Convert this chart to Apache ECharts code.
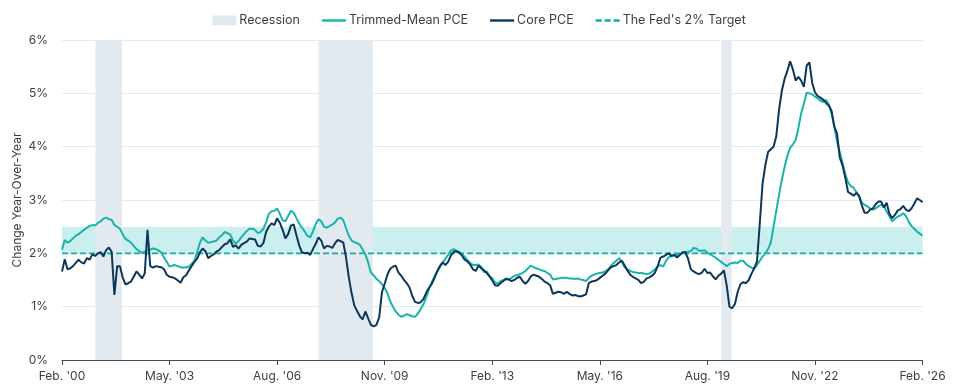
<!DOCTYPE html>
<html><head><meta charset="utf-8">
<script src="https://cdn.jsdelivr.net/npm/echarts@6/dist/echarts.min.js"></script>
<style>html,body{margin:0;padding:0;background:#fff}#c{width:958px;height:391px}</style>
</head><body><div id="c"></div>
<script>
// Months since Feb. 2000 (index 0) through Feb. 2026 (index 312)
const tickLabels = ["Feb. '00","May. '03","Aug. '06","Nov. '09","Feb. '13","May. '16","Aug. '19","Nov. '22","Feb. '26"];
const tickStepMonths = 39;
const lastMonth = 312;

const trimmedMeanPCE = [
2.07,2.25,2.20,2.23,2.28,2.33,2.36,2.40,2.44,2.48,
2.51,2.53,2.52,2.57,2.60,2.65,2.67,2.64,2.63,2.53,
2.50,2.46,2.36,2.27,2.24,2.20,2.14,2.08,2.04,2.01,
2.03,2.06,2.07,2.09,2.08,2.05,2.02,1.92,1.84,1.75,
1.77,1.78,1.76,1.74,1.73,1.74,1.75,1.80,1.86,2.02,
2.20,2.30,2.24,2.20,2.21,2.22,2.24,2.30,2.34,2.40,
2.38,2.35,2.24,2.18,2.23,2.30,2.36,2.42,2.46,2.46,
2.44,2.38,2.40,2.46,2.58,2.74,2.79,2.80,2.84,2.74,
2.62,2.60,2.70,2.80,2.76,2.66,2.56,2.48,2.41,2.33,
2.30,2.41,2.55,2.64,2.60,2.50,2.48,2.51,2.54,2.58,
2.65,2.67,2.62,2.47,2.33,2.24,2.21,2.19,2.16,2.07,
1.98,1.83,1.64,1.59,1.52,1.48,1.42,1.35,1.25,1.10,
1.00,0.91,0.85,0.81,0.83,0.86,0.84,0.82,0.81,0.87,
0.95,1.04,1.17,1.32,1.45,1.56,1.65,1.74,1.82,1.90,
1.97,2.05,2.08,2.05,2.01,1.98,1.94,1.87,1.82,1.78,
1.78,1.79,1.75,1.65,1.66,1.57,1.53,1.45,1.43,1.48,
1.50,1.53,1.51,1.54,1.58,1.59,1.61,1.63,1.67,1.72,
1.77,1.74,1.72,1.70,1.68,1.67,1.63,1.60,1.51,1.52,
1.53,1.54,1.54,1.54,1.53,1.53,1.52,1.53,1.51,1.50,
1.48,1.54,1.58,1.60,1.62,1.63,1.64,1.66,1.70,1.76,
1.82,1.86,1.91,1.84,1.74,1.70,1.67,1.65,1.64,1.63,
1.63,1.62,1.61,1.62,1.66,1.70,1.76,1.78,1.75,1.86,
1.93,1.95,1.97,1.97,1.98,2.00,2.02,2.03,2.04,2.10,
2.09,2.05,2.05,2.06,2.01,1.98,1.95,1.92,1.88,1.84,
1.80,1.76,1.80,1.82,1.83,1.82,1.86,1.86,1.80,1.76,
1.73,1.72,1.78,1.86,1.94,2.00,2.08,2.20,2.50,2.80,
3.10,3.38,3.62,3.83,3.98,4.04,4.12,4.35,4.62,4.81,
5.01,5.00,4.98,4.94,4.91,4.86,4.84,4.88,4.80,4.62,
4.38,4.10,3.90,3.70,3.48,3.33,3.26,3.23,3.15,3.07,
2.95,2.91,2.88,2.84,2.82,2.84,2.88,2.91,2.89,2.78,
2.70,2.60,2.65,2.69,2.71,2.75,2.70,2.59,2.51,2.46,
2.41,2.37,2.33
];

const corePCE = [
1.66,1.89,1.70,1.72,1.76,1.82,1.88,1.83,1.81,1.91,
1.88,1.98,1.95,2.00,2.02,1.94,2.06,2.11,2.03,1.22,
1.76,1.76,1.55,1.42,1.44,1.47,1.56,1.66,1.60,1.53,
1.62,2.44,1.76,1.73,1.76,1.75,1.74,1.70,1.60,1.56,
1.55,1.53,1.49,1.45,1.55,1.59,1.68,1.76,1.84,1.90,
2.02,2.09,2.04,1.91,1.95,1.98,2.03,2.06,2.12,2.17,
2.19,2.26,2.12,2.15,2.09,2.16,2.19,2.22,2.28,2.27,
2.26,2.14,2.13,2.19,2.40,2.50,2.56,2.53,2.66,2.57,
2.44,2.28,2.36,2.52,2.54,2.34,2.15,2.02,2.00,2.01,
1.97,2.08,2.18,2.30,2.24,2.09,2.14,2.13,2.10,2.19,
2.25,2.23,2.20,1.92,1.55,1.25,1.02,0.92,0.82,0.76,
0.91,0.78,0.66,0.63,0.66,0.80,1.27,1.43,1.60,1.71,
1.75,1.77,1.64,1.58,1.50,1.44,1.36,1.20,1.09,1.07,
1.08,1.14,1.25,1.35,1.42,1.53,1.66,1.76,1.83,1.78,
1.84,1.96,2.03,2.04,2.02,1.96,1.88,1.85,1.79,1.70,
1.67,1.77,1.72,1.68,1.63,1.57,1.49,1.40,1.39,1.44,
1.48,1.52,1.51,1.48,1.50,1.54,1.56,1.48,1.43,1.48,
1.57,1.60,1.58,1.56,1.52,1.47,1.44,1.40,1.24,1.26,
1.28,1.27,1.24,1.28,1.24,1.21,1.22,1.20,1.19,1.21,
1.23,1.44,1.47,1.48,1.50,1.54,1.58,1.62,1.68,1.74,
1.76,1.78,1.83,1.86,1.77,1.68,1.60,1.56,1.53,1.50,
1.44,1.47,1.53,1.55,1.58,1.64,1.76,1.92,1.94,1.97,
2.00,1.95,1.97,1.92,1.97,2.02,2.02,1.90,1.70,1.66,
1.63,1.61,1.64,1.71,1.63,1.64,1.57,1.51,1.58,1.62,
1.68,1.40,1.00,0.97,1.05,1.28,1.42,1.46,1.44,1.50,
1.62,1.72,1.85,2.56,3.30,3.65,3.90,3.95,4.00,4.20,
4.70,5.05,5.27,5.42,5.60,5.45,5.24,5.31,5.24,5.12,
5.52,5.58,5.20,5.02,4.95,4.92,4.88,4.82,4.77,4.68,
4.38,4.25,3.80,3.65,3.42,3.15,3.12,3.08,3.13,3.08,
2.90,2.76,2.76,2.82,2.84,2.92,2.97,2.97,2.86,2.95,
2.74,2.66,2.72,2.80,2.83,2.89,2.82,2.79,2.84,2.93,
3.03,3.00,2.96
];

// Recession shading, in months since Feb. 2000 [start, end]
const recessions = [[12.1, 21.7], [93, 112.7], [239, 242.8]];
const fedTarget = 2;
const targetBand = [2, 2.5];

const toPairs = arr => arr.map((v, i) => [i, v]);
const FONT = 'Inter';
const LINE_ICON = 'path://M0,0H24V2.4H0Z';
const DASH_ICON = 'path://M0,0H6V2.4H0Z M9,0H15V2.4H9Z M18,0H24V2.4H18Z';

const chart = echarts.init(document.getElementById('c'), null, {renderer: 'canvas'});
chart.setOption({
  animation: false,
  textStyle: {fontFamily: FONT},
  grid: {left: 62, right: 35.5, top: 40, bottom: 31, containLabel: false},
  legend: {
    top: 9, left: 'center', itemWidth: 24, itemHeight: 10, itemGap: 22,
    selectedMode: false, symbolKeepAspect: true,
    textStyle: {fontFamily: FONT, fontSize: 12.5, color: '#3b3f44', padding: [0,0,0,-2]},
    data: [
      {name: 'Recession', icon: 'rect', itemStyle: {color: '#e2eaf0'}},
      {name: 'Trimmed-Mean PCE', icon: LINE_ICON, itemStyle: {color: '#19b3aa'}},
      {name: 'Core PCE', icon: LINE_ICON, itemStyle: {color: '#0c3759'}},
      {name: "The Fed's 2% Target", icon: DASH_ICON, itemStyle: {color: '#13aca4'}}
    ]
  },
  xAxis: {
    type: 'value', min: 0, max: lastMonth, interval: tickStepMonths,
    axisLine: {show: true, lineStyle: {color: '#3c4d5e', width: 1.2}},
    axisTick: {show: true, length: 5, lineStyle: {color: '#3c4d5e'}},
    splitLine: {show: false},
    axisLabel: {
      color: '#3b3f44', fontSize: 12, margin: 10, fontFamily: FONT,
      formatter: v => tickLabels[Math.round(v / tickStepMonths)]
    }
  },
  yAxis: {
    type: 'value', min: 0, max: 6, interval: 1,
    name: 'Change Year-Over-Year', nameLocation: 'middle', nameRotate: 90, nameGap: 39,
    nameMoveOverlap: false,
    nameTextStyle: {color: '#3b3f44', fontSize: 12, fontFamily: FONT},
    axisLine: {show: false}, axisTick: {show: false},
    axisLabel: {color: '#3b3f44', fontSize: 12, margin: 14, formatter: '{value}%', fontFamily: FONT},
    splitLine: {lineStyle: {color: '#e2ebf0', width: 1}}
  },
  series: [
    {
      name: 'band', type: 'line', data: [], z: 1, silent: true,
      markArea: {silent: true, itemStyle: {color: '#cbeeee', opacity: 1},
        data: [[{xAxis: 0, yAxis: targetBand[0]}, {xAxis: lastMonth, yAxis: targetBand[1]}]]}
    },
    {
      name: 'Recession', type: 'line', data: [], z: 2, color: '#e2eaf0', silent: true,
      itemStyle: {color: '#e2eaf0'},
      markArea: {silent: true, itemStyle: {color: '#e2eaf0', opacity: 1},
        data: recessions.map(r => [{xAxis: r[0], yAxis: 0}, {xAxis: r[1], yAxis: 6}])}
    },
    {
      name: 'Trimmed-Mean PCE', type: 'line', z: 4, data: toPairs(trimmedMeanPCE),
      showSymbol: false, symbol: 'none', color: '#19b3aa',
      lineStyle: {color: '#19b3aa', width: 2}
    },
    {
      name: 'Core PCE', type: 'line', z: 5, data: toPairs(corePCE),
      showSymbol: false, symbol: 'none', color: '#0c3759',
      lineStyle: {color: '#0c3759', width: 2}
    },
    {
      name: "The Fed's 2% Target", type: 'line', z: 3,
      data: [[0, fedTarget], [lastMonth, fedTarget]],
      showSymbol: false, symbol: 'none', color: '#13aca4',
      lineStyle: {color: '#13aca4', width: 1.8, type: [6, 3]}
    }
  ]
});
</script>
</body></html>
